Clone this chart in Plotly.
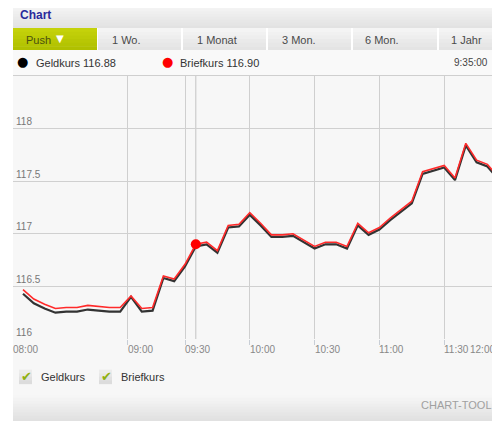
import plotly.graph_objects as go

# ---------------- data ----------------
point_index = list(range(45))
brief = [116.47, 116.38, 116.33, 116.29, 116.30, 116.30, 116.32, 116.31, 116.30, 116.30,
         116.41, 116.29, 116.30, 116.60, 116.57, 116.71, 116.90, 116.92, 116.84, 117.08,
         117.09, 117.20, 117.10, 116.99, 116.99, 117.00, 116.94, 116.88, 116.92, 116.92,
         116.88, 117.10, 117.01, 117.06, 117.15, 117.23, 117.31, 117.59, 117.62, 117.65,
         117.53, 117.86, 117.70, 117.66, 117.54]
geld = [116.43, 116.34, 116.29, 116.25, 116.26, 116.26, 116.28, 116.27, 116.26, 116.26,
        116.40, 116.26, 116.27, 116.58, 116.55, 116.69, 116.88, 116.90, 116.82, 117.06,
        117.07, 117.18, 117.08, 116.97, 116.97, 116.98, 116.92, 116.86, 116.90, 116.90,
        116.86, 117.08, 116.99, 117.04, 117.13, 117.21, 117.29, 117.57, 117.60, 117.63,
        117.51, 117.84, 117.68, 117.64, 117.52]
tick_pos = [9.69, 15, 21, 27, 33, 39]
tick_text = ["09:00", "09:30", "10:00", "10:30", "11:00", "11:30"]
first_label = "08:00"
last_label = "12:00"
y_ticks = [116, 116.5, 117, 117.5, 118]
y_tick_text = ["116", "116.5", "117", "117.5", "118"]
current_index = 16
current_time = "9:35:00"
geld_now = 116.88
brief_now = 116.90
tabs = ["1 Wo.", "1 Monat", "3 Mon.", "6 Mon.", "1 Jahr"]

# ---------------- layout helpers (screen pixel coords, page has 8px body margin) ----------------
OFF = 8
W, H = 492, 413
L = 13 - OFF
T = 76 - OFF
PLOT_BOTTOM = 339.3 - OFF
B = H - PLOT_BOTTOM
PW = W - L
PH = PLOT_BOTTOM - T
X0 = -0.926
X1 = X0 + PW / 10.8

def px(sx):
    return (sx - OFF - L) / PW

def py(sy):
    return (PLOT_BOTTOM - (sy - OFF)) / PH

FONT = "Liberation Sans, Arial, sans-serif"
shapes = []
ann = []

def rect(x0, y0, x1, y1, color, layer="below"):
    shapes.append(dict(type="rect", xref="paper", yref="paper", x0=px(x0), x1=px(x1),
                       y0=py(y1), y1=py(y0), fillcolor=color, line_width=0, layer=layer))

def grad(x0, y0, x1, y1, c0, c1, n=8, layer="below"):
    h = (y1 - y0) / n
    for i in range(n):
        t = i / (n - 1)
        c = tuple(round(c0[j] + (c1[j] - c0[j]) * t) for j in range(3))
        rect(x0, y0 + i * h, x1, y0 + (i + 1) * h + 0.5, "rgb(%d,%d,%d)" % c, layer)

def text(x, y, s, size=11, color="#444", anchor="left", bold=False):
    if bold:
        s = "<b>" + s + "</b>"
    ann.append(dict(xref="paper", yref="paper", x=px(x), y=py(y), text=s, showarrow=False,
                    xanchor=anchor, yanchor="middle", font=dict(family=FONT, size=size, color=color)))

# widget background
rect(L + OFF, 0, 520, 440, "#f7f7f7")
# header
grad(L + OFF, 0, 520, 28, (250, 250, 250), (226, 226, 226), 10)
text(18, 15, "Chart", 12, "#2a2a9c", bold=True)
# tabs
rect(L + OFF, 28, 520, 50, "#ffffff")
grad(L + OFF, 28, 97, 50, (196, 210, 10), (176, 192, 0), 6)
text(24, 39.5, "Push", 11, "#4a5010")
ann.append(dict(xref="paper", yref="paper", x=px(60), y=py(38.5), text="▼", showarrow=False,
                xanchor="center", yanchor="middle", font=dict(family="DejaVu Sans", size=10, color="#ffffff")))
tab_bounds = [(98, 181), (183, 266), (268, 351), (353, 437), (439, 520)]
tab_text_x = [110, 195, 280, 363, 449]
for (a, b_), lab, tx in zip(tab_bounds, tabs, tab_text_x):
    grad(a, 28, b_, 50, (244, 244, 244), (228, 228, 228), 6)
    text(tx, 39.5, lab, 11, "#4a4a4a")
# legend row
rect(L + OFF, 50, 520, 75, "#f9f9f9")
ann.append(dict(xref="paper", yref="paper", x=px(22), y=py(61), text="●", showarrow=False,
                xanchor="center", yanchor="middle", font=dict(family="DejaVu Sans", size=13, color="#000000")))
text(34, 62.5, "Geldkurs %.2f" % geld_now, 11, "#333")
ann.append(dict(xref="paper", yref="paper", x=px(167), y=py(61), text="●", showarrow=False,
                xanchor="center", yanchor="middle", font=dict(family="DejaVu Sans", size=13, color="#ff0000")))
text(178, 62.5, "Briefkurs %.2f" % brief_now, 11, "#333")
text(490, 62, current_time, 10, "#444", anchor="right")
shapes.append(dict(type="line", xref="paper", yref="paper", x0=0, x1=1.05, y0=py(75.5), y1=py(75.5),
                   line=dict(color="#cfcfcf", width=1)))
# checkbox legend
for bx, lab in [(19, "Geldkurs"), (99, "Briefkurs")]:
    grad(bx, 370, bx + 13, 384, (236, 236, 236), (220, 220, 220), 4, layer="above")
    ann.append(dict(xref="paper", yref="paper", x=px(bx + 7), y=py(377), text="✔", showarrow=False,
                    xanchor="center", yanchor="middle",
                    font=dict(family="DejaVu Sans", size=13, color="#8fb010")))
    text(bx + 20, 377, lab, 11, "#333")
# footer
grad(L + OFF, 395, 520, 425, (246, 246, 246), (222, 222, 222), 10)
text(494, 405, "CHART-TOOL", 11, "#a0a0a0", anchor="right")

# crosshair at current point
shapes.append(dict(type="line", xref="x", yref="paper", x0=current_index, x1=current_index, y0=0, y1=1,
                   line=dict(color="#c4c4c4", width=1), layer="below"))

# x labels (left aligned at ticks)
ann.append(dict(xref="paper", yref="paper", x=0, y=py(350), text=first_label, showarrow=False,
                xanchor="left", yanchor="middle", xshift=-2, font=dict(family=FONT, size=10, color="#888")))
for tv, tt in zip(tick_pos, tick_text):
    ann.append(dict(xref="x", yref="paper", x=tv, y=py(350), text=tt, showarrow=False,
                    xanchor="left", yanchor="middle", xshift=-2, font=dict(family=FONT, size=10, color="#888")))
ann.append(dict(xref="paper", yref="paper", x=px(497), y=py(350), text=last_label, showarrow=False,
                xanchor="right", yanchor="middle", font=dict(family=FONT, size=10, color="#888")))

fig = go.Figure()
fig.add_trace(go.Scatter(x=point_index, y=geld, mode="lines", name="Geldkurs",
                         line=dict(color="#333333", width=2.2), hoverinfo="skip"))
fig.add_trace(go.Scatter(x=point_index, y=brief, mode="lines", name="Briefkurs",
                         line=dict(color="#ff2a2a", width=1.6), hoverinfo="skip"))
fig.add_trace(go.Scatter(x=[current_index], y=[brief[current_index]], mode="markers",
                         marker=dict(color="#ff0000", size=10, line=dict(width=0)),
                         showlegend=False, hoverinfo="skip"))

fig.update_layout(
    width=W, height=H,
    margin=dict(l=L, r=0, t=T, b=B, pad=0),
    paper_bgcolor="#ffffff", plot_bgcolor="#f7f7f7",
    showlegend=False,
    shapes=shapes, annotations=ann,
    xaxis=dict(range=[X0, X1], tickvals=tick_pos, ticktext=tick_text, showticklabels=False,
               ticks="outside", ticklen=5, tickcolor="#c8ced6", showgrid=True, gridcolor="#cfcfcf",
               gridwidth=1, zeroline=False, showline=False, fixedrange=True),
    yaxis=dict(range=[116, 118.5], tickvals=y_ticks, ticktext=y_tick_text,
               ticklabelposition="inside top", tickfont=dict(family=FONT, size=10, color="#777"),
               showgrid=True, gridcolor="#d0d0d0", gridwidth=1, zeroline=False, showline=False,
               ticks="", fixedrange=True),
)
fig.write_html("out.html")
